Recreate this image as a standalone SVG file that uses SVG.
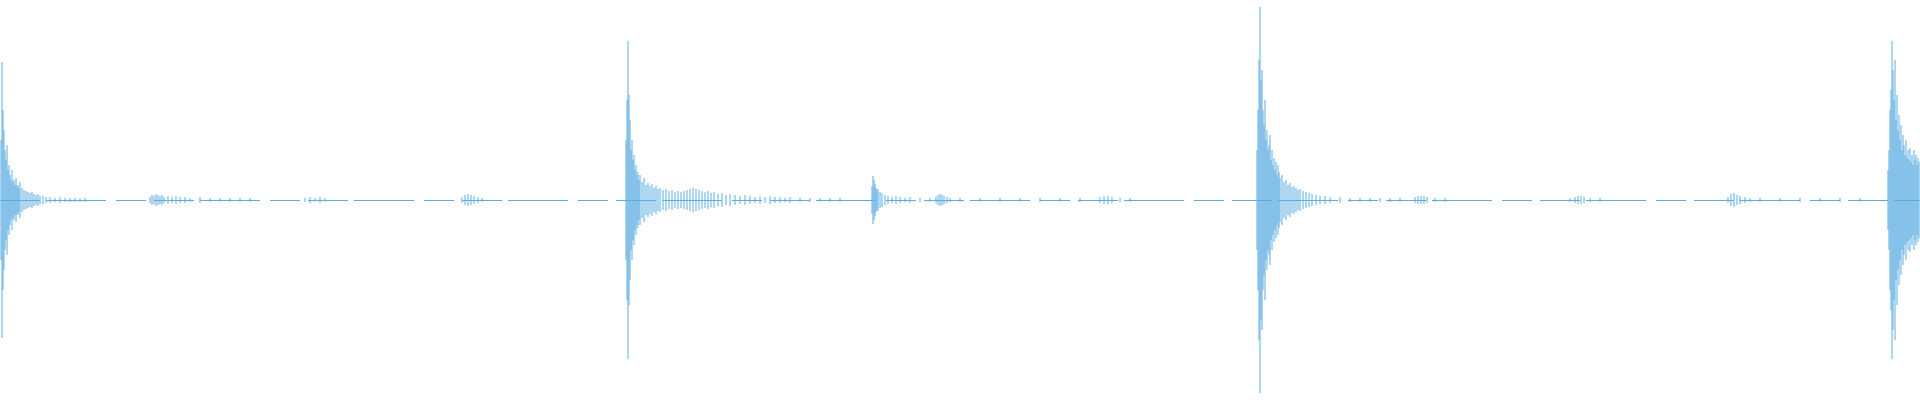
<svg xmlns="http://www.w3.org/2000/svg" width="1920" height="400" viewBox="0 0 1920 400">
<style>.w{stroke:#5dade2;stroke-width:1;fill:none}.c{stroke:#5dade2;stroke-width:1;stroke-dasharray:40 6 60 10 30 8;fill:none}</style>
<rect width="1920" height="400" fill="#fff"/>
<path class="c" d="M0 200.5H1920"/>
<path class="w" d="
M1 140V260M2 62V338M3 110V290M4 130V270M5 150V250M6 160V240M7 145V255M8 170V230M9 165V235M10 175V225M11 180V220M12 170V230M13 182V218M14 180V220M15 185V215M16 178V222M17 186V214M18 185V215M19 188V212M20 182V218M22 188V212M24 190V210M26 191V209M28 192V208M30 193V207M32 192V208M34 194V206M36 195V205M38 194V206M40 196V204M43 196V204M46 197V203M50 197V203M55 198V202M60 197V203M65 198V202M70 198V202M75 198V202M80 198V202M85 198V202
M150 197V203M152 195V205M154 196V204M156 194V206M158 195V205M160 196V204M162 195V205M164 197V203M168 196V204M172 197V203M176 196V204M180 197V203M185 197V203M190 198V202M200 197V203M210 198V202M220 198V202M230 198V202M240 198V202M250 198V202
M305 198V202M310 197V203M315 198V202M320 197V203M325 198V202
M462 197V203M465 195V205M468 194V206M471 195V205M474 196V204M478 197V203M482 198V202
M626 140V260M627 100V300M628 41V359M629 95V305M630 120V280M631 150V250M632 140V260M633 160V240M634 155V245M635 170V230M636 165V235M637 175V225M638 172V228M639 180V220M640 175V225M642 182V218M644 178V222M646 185V215M648 183V217M650 186V214M652 184V216M654 188V212M656 186V214M658 189V211M660 188V212M663 190V210M666 189V211M669 191V209M672 190V210M675 192V208M678 191V209M681 192V208M684 191V209M687 190V210M690 189V211M693 188V212M696 189V211M699 190V210M702 191V209M705 192V208M708 191V209M711 193V207M714 192V208M718 194V206M722 193V207M726 195V205M730 194V206M735 195V205M740 196V204M745 195V205M750 196V204M755 197V203M760 196V204M765 197V203M770 196V204M775 197V203M780 197V203M785 198V202M790 197V203M800 198V202M810 198V202M820 198V202M830 198V202M840 198V202
M872 186V214M873 176V224M874 180V220M875 184V216M876 188V212M877 190V210M878 189V211M880 192V208M882 193V207M885 195V205M888 196V204M892 197V203M896 196V204M900 197V203M905 198V202M910 197V203M920 198V202M930 198V202
M936 197V203M938 195V205M940 194V206M942 195V205M944 196V204M947 197V203M950 198V202M960 198V202M980 198V202M1000 198V202M1020 198V202M1040 198V202M1060 198V202M1080 198V202M1100 197V203M1104 196V204M1108 196V204M1112 197V203M1120 198V202M1130 198V202
M1257 150V250M1258 110V290M1259 60V340M1260 7V393M1261 80V320M1262 70V330M1263 110V290M1264 125V275M1265 100V300M1266 140V260M1267 130V270M1268 150V250M1269 145V255M1270 135V265M1271 160V240M1272 150V250M1273 165V235M1274 158V242M1275 170V230M1276 162V238M1277 175V225M1278 165V235M1279 172V228M1280 178V222M1282 175V225M1284 182V218M1286 180V220M1288 185V215M1290 183V217M1292 187V213M1294 186V214M1296 188V212M1298 190V210M1300 189V211M1303 191V209M1306 192V208M1309 193V207M1312 194V206M1316 195V205M1320 196V204M1325 196V204M1330 197V203M1340 197V203M1350 198V202M1360 198V202M1370 198V202M1380 198V202M1390 198V202M1400 198V202M1415 197V203M1418 196V204M1421 196V204M1424 196V204M1427 197V203M1435 198V202M1445 198V202
M1570 198V202M1575 197V203M1578 196V204M1581 196V204M1584 197V203M1590 198V202M1600 198V202
M1728 197V203M1731 194V206M1734 193V207M1737 195V205M1740 196V204M1745 197V203M1750 198V202M1760 198V202M1780 198V202M1800 198V202M1820 198V202M1840 198V202M1860 198V202
M1888 170V230M1889 150V250M1890 110V290M1891 90V310M1892 41V359M1893 70V330M1894 100V300M1895 60V340M1896 120V280M1897 95V305M1898 130V270M1899 115V285M1900 140V260M1901 125V275M1902 150V250M1903 135V265M1904 145V255M1905 155V245M1906 140V260M1907 158V242M1908 150V250M1909 160V240M1910 148V252M1911 162V238M1912 155V245M1913 165V235M1914 150V250M1915 160V240M1916 155V245M1917 165V235M1918 158V242M1919 162V238"/>
</svg>
